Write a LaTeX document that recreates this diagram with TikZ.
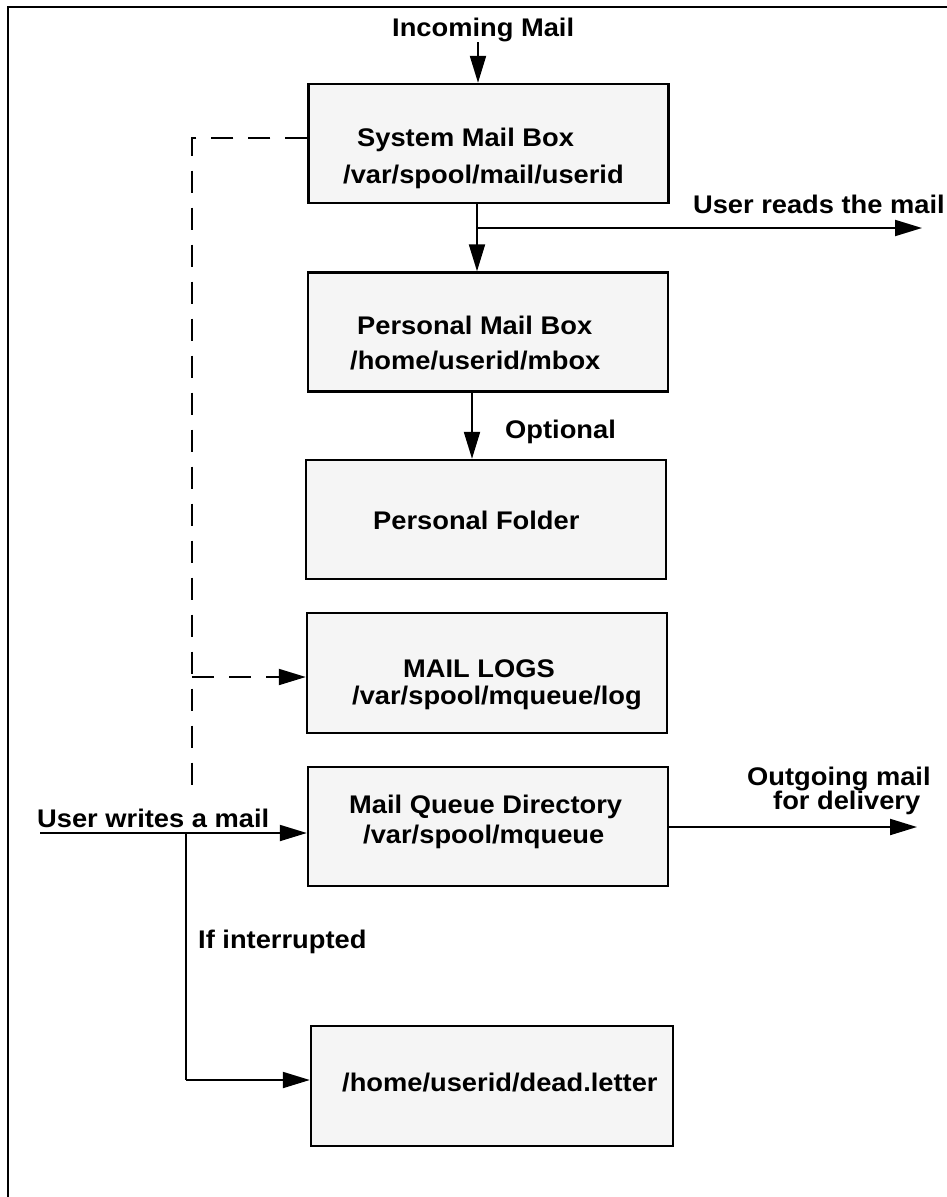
\documentclass[tikz,border=0pt]{standalone}
\usepackage{fontspec}
\setmainfont{Liberation Sans}[FakeStretch=1.07]
\usetikzlibrary{arrows.meta,calc}
\begin{document}
\begin{tikzpicture}[x=1pt,y=-1pt,
  box/.style={draw=black,line width=2.4pt,fill=boxgray,minimum width=360pt,minimum height=119pt,inner sep=0pt},
  txt/.style={font=\fontsize{25.5}{30}\selectfont\bfseries,inner sep=0pt,anchor=base west},
  ln/.style={line width=2pt},
  arr/.style={line width=2pt,-{Triangle[length=27pt,width=16pt]}},
  dsh/.style={line width=2pt,dash pattern=on 22pt off 15pt}]
\definecolor{boxgray}{HTML}{F5F5F5}
\useasboundingbox (0,0) rectangle (946,1197);
% frame
\draw[line width=2pt] (8,1200) -- (8,7) -- (950,7);
% boxes
\node[box] (sys) at (488.5,143.5) {};
\node[box] (pers) at (488,332) {};
\node[box] (fold) at (486,519.5) {};
\node[box,minimum height=120pt] (logs) at (487,673) {};
\node[box] (queue) at (488,826.5) {};
\node[box,minimum width=362pt,minimum height=120pt] (dead) at (492,1086) {};
% box texts
\node[txt] (t1) at (357,146) {System Mail Box};
\node[txt] (t2) at (343,183) {/var/spool/mail/userid};
\node[txt] (t3) at (357,334) {Personal Mail Box};
\node[txt] (t4) at (350,369) {/home/userid/mbox};
\node[txt] (t5) at (373,529) {Personal Folder};
\node[txt] (t6) at (403,677) {MAIL LOGS};
\node[txt] (t7) at (352,704) {/var/spool/mqueue/log};
\node[txt] (t8) at (349,813) {Mail Queue Directory};
\node[txt] (t9) at (363,843) {/var/spool/mqueue};
\node[txt] (t10) at (342,1091) {/home/userid/dead.letter};
% outside labels
\node[txt] (l1) at (392,36) {Incoming Mail};
\node[txt,anchor=base east] (l2) at (945,213) {User reads the mail};
\node[txt] (l3) at (505,438) {Optional};
\node[txt] (l4) at (37,827) {User writes a mail};
\node[txt] (l5) at (747,785) {Outgoing mail};
\node[txt] (l6) at (773,809) {for delivery};
\node[txt] (l7) at (198,948) {If interrupted};
% coordinates
\coordinate (inc) at (478,42);
\coordinate (sx) at (477,228);
\coordinate (rd) at (922,228);
\coordinate (px) at (472,0);
\coordinate (dx) at (192,138);
\coordinate (dend) at (192,797);
\coordinate (dl) at (192,677);
\coordinate (uw) at (40,833);
\coordinate (ub) at (186,833);
\coordinate (ud) at (186,1080);
\coordinate (og) at (917,827);
% connectors
\draw[arr] (inc) -- (inc |- sys.north);
\draw[arr] (sx |- sys.south) -- (sx |- pers.north);
\draw[arr] (sx) -- (rd);
\draw[arr] (px |- pers.south) -- (px |- fold.north);
\draw[dsh] (sys.west |- dx) -- (dx) -- (dend);
\draw[dsh,-{Triangle[length=27pt,width=16pt]}] (dl) -- (logs.west |- dl);
\draw[arr] (uw) -- (queue.west |- uw);
\draw[ln] (ub) -- (ud);
\draw[arr] (ud) -- (dead.west |- ud);
\draw[arr] (queue.east |- og) -- (og);
\end{tikzpicture}
\end{document}
